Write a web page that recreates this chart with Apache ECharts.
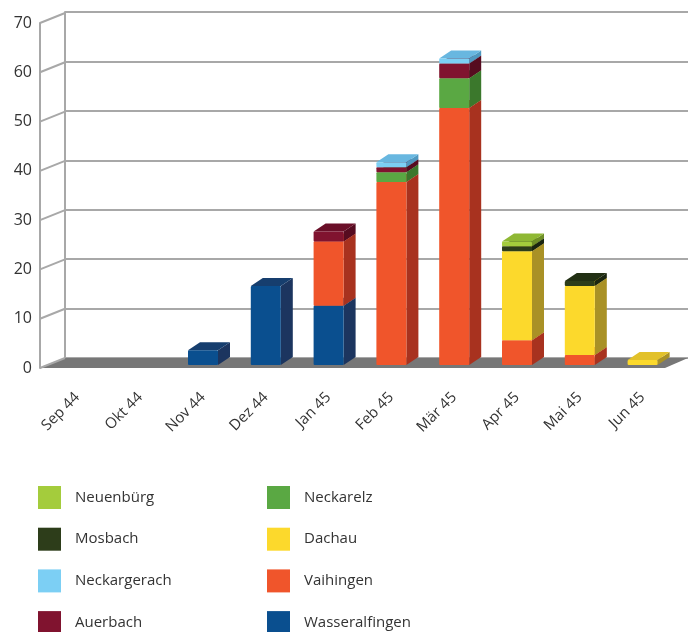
<!DOCTYPE html>
<html>
<head>
<meta charset="utf-8">
<script src="https://cdn.jsdelivr.net/npm/echarts@6/dist/echarts.min.js"></script>
<style>
  html, body { margin: 0; padding: 0; background: #fff; }
  #chart { width: 688px; height: 632px; }
</style>
</head>
<body>
<div id="chart"></div>
<script>
// Monate
const categories = ["Sep 44", "Okt 44", "Nov 44", "Dez 44", "Jan 45", "Feb 45", "Mär 45", "Apr 45", "Mai 45", "Jun 45"];
const yTicks = [0, 10, 20, 30, 40, 50, 60, 70];

// Werte je Lager (von unten nach oben gestapelt)
const wasseralfingen = [0, 0, 3, 16, 12, 0, 0, 0, 0, 0];
const vaihingen = [0, 0, 0, 0, 13, 37, 52, 5, 2, 0];
const dachau = [0, 0, 0, 0, 0, 0, 0, 18, 14, 1];
const neckarelz = [0, 0, 0, 0, 0, 2, 6, 0, 0, 0];
const auerbach = [0, 0, 0, 0, 2, 1, 3, 0, 0, 0];
const neckargerach = [0, 0, 0, 0, 0, 1, 1, 0, 0, 0];
const mosbach = [0, 0, 0, 0, 0, 0, 0, 1, 1, 0];
const neuenbuerg = [0, 0, 0, 0, 0, 0, 0, 1, 0, 0];

const FONT = "'Open Sans', 'Noto Sans', sans-serif";

const stackDef = [
  { name: "Wasseralfingen", data: wasseralfingen, color: "#0a4f8f", side: "#1c355f", top: "#163e6e" },
  { name: "Vaihingen", data: vaihingen, color: "#f0552b", side: "#a8321f", top: "#d8462a" },
  { name: "Dachau", data: dachau, color: "#fcd92c", side: "#a99126", top: "#e2c12a" },
  { name: "Neckarelz", data: neckarelz, color: "#5aa843", side: "#3b782c", top: "#4d9539" },
  { name: "Auerbach", data: auerbach, color: "#80132f", side: "#560b20", top: "#6a0f28" },
  { name: "Neckargerach", data: neckargerach, color: "#7ccff4", side: "#4f98c0", top: "#68b7e0" },
  { name: "Mosbach", data: mosbach, color: "#2d3d1a", side: "#1a2510", top: "#223014" },
  { name: "Neuenbürg", data: neuenbuerg, color: "#a4cc3c", side: "#6f8f26", top: "#8fb834" }
];

// kumulierte Basis je Monat
const base = categories.map(() => 0);
const barSeries = stackDef.map((s) => {
  const items = [];
  s.data.forEach((v, i) => {
    if (v > 0) items.push([i, base[i], base[i] + v]);
    base[i] += v;
  });
  return {
    name: s.name,
    type: "custom",
    xAxisIndex: 2,
    yAxisIndex: 2,
    z: 5,
    itemStyle: { color: s.color },
    encode: { x: 0, y: [1, 2] },
    data: items,
    renderItem: function (params, api) {
      const i = api.value(0);
      const lo = api.coord([i, api.value(1)]);
      const hi = api.coord([i, api.value(2)]);
      const w = 30, dx = 12, dy = 8;
      const xl = lo[0] - w / 2, xr = lo[0] + w / 2;
      return {
        type: "group",
        children: [
          {
            type: "polygon",
            shape: { points: [[xr, hi[1]], [xr + dx, hi[1] - dy], [xr + dx, lo[1] - dy], [xr, lo[1]]] },
            style: { fill: s.side }
          },
          {
            type: "polygon",
            shape: { points: [[xl, hi[1]], [xl + dx, hi[1] - dy], [xr + dx, hi[1] - dy], [xr, hi[1]]] },
            style: { fill: s.top }
          },
          {
            type: "rect",
            shape: { x: xl, y: hi[1], width: w, height: lo[1] - hi[1], r: 1 },
            style: { fill: s.color }
          }
        ]
      };
    }
  };
});

// Seitenwand und Boden
const frameSeries = {
  type: "custom",
  xAxisIndex: 0,
  yAxisIndex: 0,
  z: 1,
  silent: true,
  data: yTicks.map((v) => [0, v]),
  renderItem: function (params, api) {
    const p = api.coord([0, api.value(1)]);
    const cs = params.coordSys;
    const x0 = cs.x, x1 = cs.x + cs.width;
    const children = [];
    if (api.value(1) === 0) {
      children.push({
        type: "polygon",
        shape: { points: [[x0, p[1]], [x0 + 25, p[1] - 10], [x1 + 23, p[1] - 10], [x1, p[1]]] },
        style: { fill: "#777777" }
      });
    }
    children.push({
      type: "line",
      shape: { x1: x0, y1: p[1], x2: x0 + 25, y2: p[1] - 10 },
      style: { stroke: "#a8a8a8", lineWidth: 2 }
    });
    return { type: "group", children: children };
  }
};

const legendBase = {
  orient: "vertical",
  icon: "rect",
  itemWidth: 23,
  itemHeight: 23,
  itemGap: 18.7,
  top: 486,
  height: 190,
  padding: 0,
  textStyle: { fontSize: 15, color: "#333", fontFamily: FONT, padding: [0, 0, 0, 9] }
};

const chart = echarts.init(document.getElementById("chart"));
chart.setOption({
  animation: false,
  textStyle: { fontFamily: FONT },
  legend: [
    Object.assign({}, legendBase, { left: 38, data: ["Neuenbürg", "Mosbach", "Neckargerach", "Auerbach"] }),
    Object.assign({}, legendBase, { left: 267, data: ["Neckarelz", "Dachau", "Vaihingen", "Wasseralfingen"] })
  ],
  grid: [
    { left: 40, right: 23, top: 23, bottom: 264 }, // vordere Ebene
    { left: 65, right: 0, top: 12, bottom: 274 }, // Rückwand
    { left: 46, right: 14, top: 19, bottom: 267 } // Balken
  ],
  xAxis: [
    { gridIndex: 0, type: "value", min: 0, max: 1, show: false },
    { gridIndex: 1, type: "value", min: 0, max: 1, show: false },
    {
      gridIndex: 2,
      type: "category",
      data: categories,
      axisLine: { show: false },
      axisTick: { show: false },
      axisLabel: { rotate: 45, margin: 30, fontSize: 15, color: "#333", fontFamily: FONT, interval: 0 }
    }
  ],
  yAxis: [
    {
      gridIndex: 0,
      type: "value",
      min: 0,
      max: 70,
      interval: 10,
      axisLine: { show: true, lineStyle: { color: "#a8a8a8", width: 2 } },
      axisTick: { show: false },
      splitLine: { show: false },
      axisLabel: { fontSize: 16, color: "#333", margin: 8, fontFamily: FONT }
    },
    {
      gridIndex: 1,
      type: "value",
      min: 0,
      max: 70,
      interval: 10,
      axisLine: { show: true, lineStyle: { color: "#a8a8a8", width: 2 } },
      axisTick: { show: false },
      axisLabel: { show: false },
      splitLine: { show: true, lineStyle: { color: "#a8a8a8", width: 2 } }
    },
    { gridIndex: 2, type: "value", min: 0, max: 70, interval: 10, show: false }
  ],
  series: [frameSeries].concat(barSeries)
});
</script>
</body>
</html>
